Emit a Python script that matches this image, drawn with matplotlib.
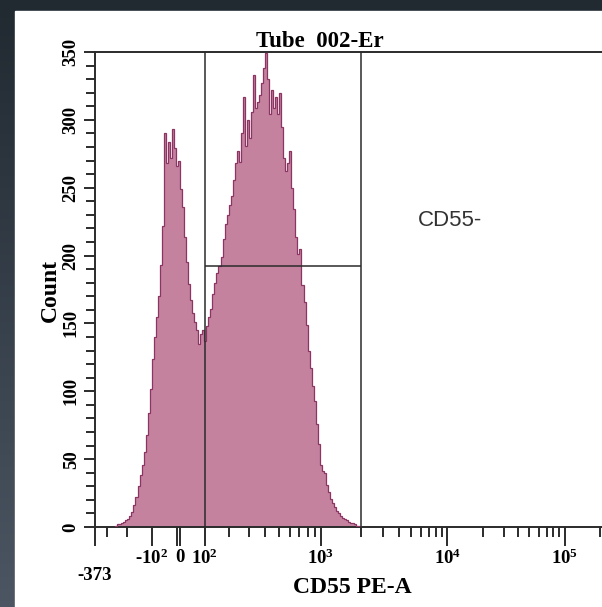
import numpy as np
import matplotlib
matplotlib.use("Agg")
import matplotlib.pyplot as plt
from matplotlib.patches import Rectangle
from matplotlib.colors import LinearSegmentedColormap
from matplotlib.ticker import MultipleLocator

# CD55 PE-A histogram, 256 channels on a logicle axis; counts start at channel 10
n_channels = 256
first_channel = 10
counts = [1, 2, 2, 3, 4, 5, 6, 8, 11, 16,
          22, 30, 38, 46, 55, 68, 84, 102, 124, 140,
          155, 170, 193, 222, 290, 268, 284, 272, 293, 279,
          266, 270, 249, 236, 214, 195, 179, 167, 158, 151,
          145, 135, 142, 145, 137, 148, 155, 161, 172, 180,
          187, 192, 199, 212, 223, 230, 237, 244, 256, 268,
          277, 269, 290, 317, 281, 300, 287, 306, 333, 309,
          313, 318, 327, 338, 349, 330, 304, 322, 309, 317,
          304, 320, 295, 272, 262, 268, 277, 250, 234, 214,
          201, 205, 178, 166, 149, 130, 117, 104, 93, 76,
          61, 46, 41, 40, 31, 26, 21, 18, 15, 12,
          10, 8, 7, 6, 5, 4, 3, 3, 2, 1, 1]

x_min, x_max = -373, 262144
y_max = 350

# gate
gate_lo, gate_hi = 100, 2000
gate_y = 192
gate_name = "CD55-"

title = "Tube  002-Er"
x_title = "CD55 PE-A"
y_title = "Count"

# zero is drawn as a double tick
x_major = [-373, -100, -6, 6, 100, 1000, 10000, 100000]
x_major_labels = ["-373", r"-$10^{2}$", "", "0", r"$10^{2}$", r"$10^{3}$",
                  r"$10^{4}$", r"$10^{5}$"]
x_minor = [-300, -200] + [m * 10 ** e for e in (2, 3, 4) for m in range(2, 10)] + [200000]

# logicle-like transform
K_SCALE = 46.5
P = 3.0
DECADE_PX = 116


def logicle_value(z):
    z = np.asarray(z, dtype=float)
    a = np.abs(z)
    return np.sign(z) * K_SCALE * (10 ** a - P ** 2 * 10 ** (-a / P) + P ** 2 - 1)


z_table = np.linspace(-2, 7, 40001)
v_table = logicle_value(z_table)


def forward(x):
    return np.interp(np.asarray(x, dtype=float), v_table, z_table)


def inverse(z):
    return logicle_value(z)


plt.rcParams["font.family"] = "Liberation Serif"
plt.rcParams["font.weight"] = "bold"
plt.rcParams["mathtext.fontset"] = "custom"
plt.rcParams["mathtext.rm"] = "Liberation Serif:bold"
plt.rcParams["mathtext.it"] = "Liberation Serif:italic:bold"
plt.rcParams["mathtext.bf"] = "Liberation Serif:bold"

W, H = 602, 607
fig = plt.figure(figsize=(W / 100, H / 100), dpi=100)


def fx(x):
    return x / W


def fy(y):
    return 1 - y / H


# dark frame + white panel
bg = fig.add_axes([0, 0, 1, 1], zorder=-10)
bg_cmap = LinearSegmentedColormap.from_list("bg", ["#212931", "#4b5662"])
bg.imshow(np.linspace(0, 1, 100)[:, None], cmap=bg_cmap, aspect="auto", extent=[0, 1, 0, 1])
bg.axis("off")
fig.patches.append(Rectangle((fx(15), 0), 1, fy(11), transform=fig.transFigure,
                             color="white", zorder=-5))

axis_px = (forward(x_max) - forward(x_min)) * DECADE_PX
ax = fig.add_axes([fx(95), fy(527), axis_px / W, 475 / H])
ax.set_xscale("function", functions=(forward, inverse))
ax.set_xlim(x_min, x_max)
ax.set_ylim(0, y_max)

u_edges = np.linspace(forward(x_min), forward(x_max), n_channels + 1)
edges = inverse(u_edges)[first_channel:first_channel + len(counts) + 1]
ax.stairs(counts, edges, fill=True, color="#c4829f", zorder=2)
ax.stairs(counts, edges, color="#8c3563", lw=0.9, zorder=3)

line_kw = dict(color="#2b2b2b", lw=1.1, zorder=4)
ax.axvline(gate_lo, **line_kw)
ax.axvline(gate_hi, **line_kw)
ax.hlines(gate_y, gate_lo, gate_hi, **line_kw)

for side in ["left", "top", "bottom"]:
    ax.spines[side].set_linewidth(1.4)
    ax.spines[side].set_color("#2b2b2b")
ax.spines["right"].set_visible(False)

ax.set_xticks(x_major, x_major_labels)
ax.set_xticks(x_minor, minor=True)
ax.tick_params(axis="x", which="major", length=13.5, width=1.4, color="#2b2b2b",
               labelsize=13.5, pad=2)
ax.tick_params(axis="x", which="minor", length=7, width=1.4, color="#2b2b2b")
ax.xaxis.get_major_ticks()[0].set_pad(15)

ax.set_yticks(range(0, y_max + 1, 50))
ax.yaxis.set_minor_locator(MultipleLocator(10))
ax.tick_params(axis="y", which="major", length=8, width=1.4, color="#2b2b2b",
               labelsize=13.5, labelrotation=90, pad=3)
ax.tick_params(axis="y", which="minor", length=6.5, width=1.4, color="#2b2b2b")
for lab in ax.get_yticklabels():
    lab.set_va("center")

fig.text(fx(320), fy(47), title, ha="center", va="baseline", fontsize=16.5)
fig.text(fx(352), fy(593), x_title, ha="center", va="baseline", fontsize=17)
fig.text(fx(50), fy(290), y_title, ha="center", va="center", rotation=90, fontsize=17)
fig.text(fx(418), fy(226), gate_name, ha="left", va="baseline", fontsize=16,
         family="Liberation Sans", weight="normal", color="#333333")

fig.savefig("out.png", dpi=100)
